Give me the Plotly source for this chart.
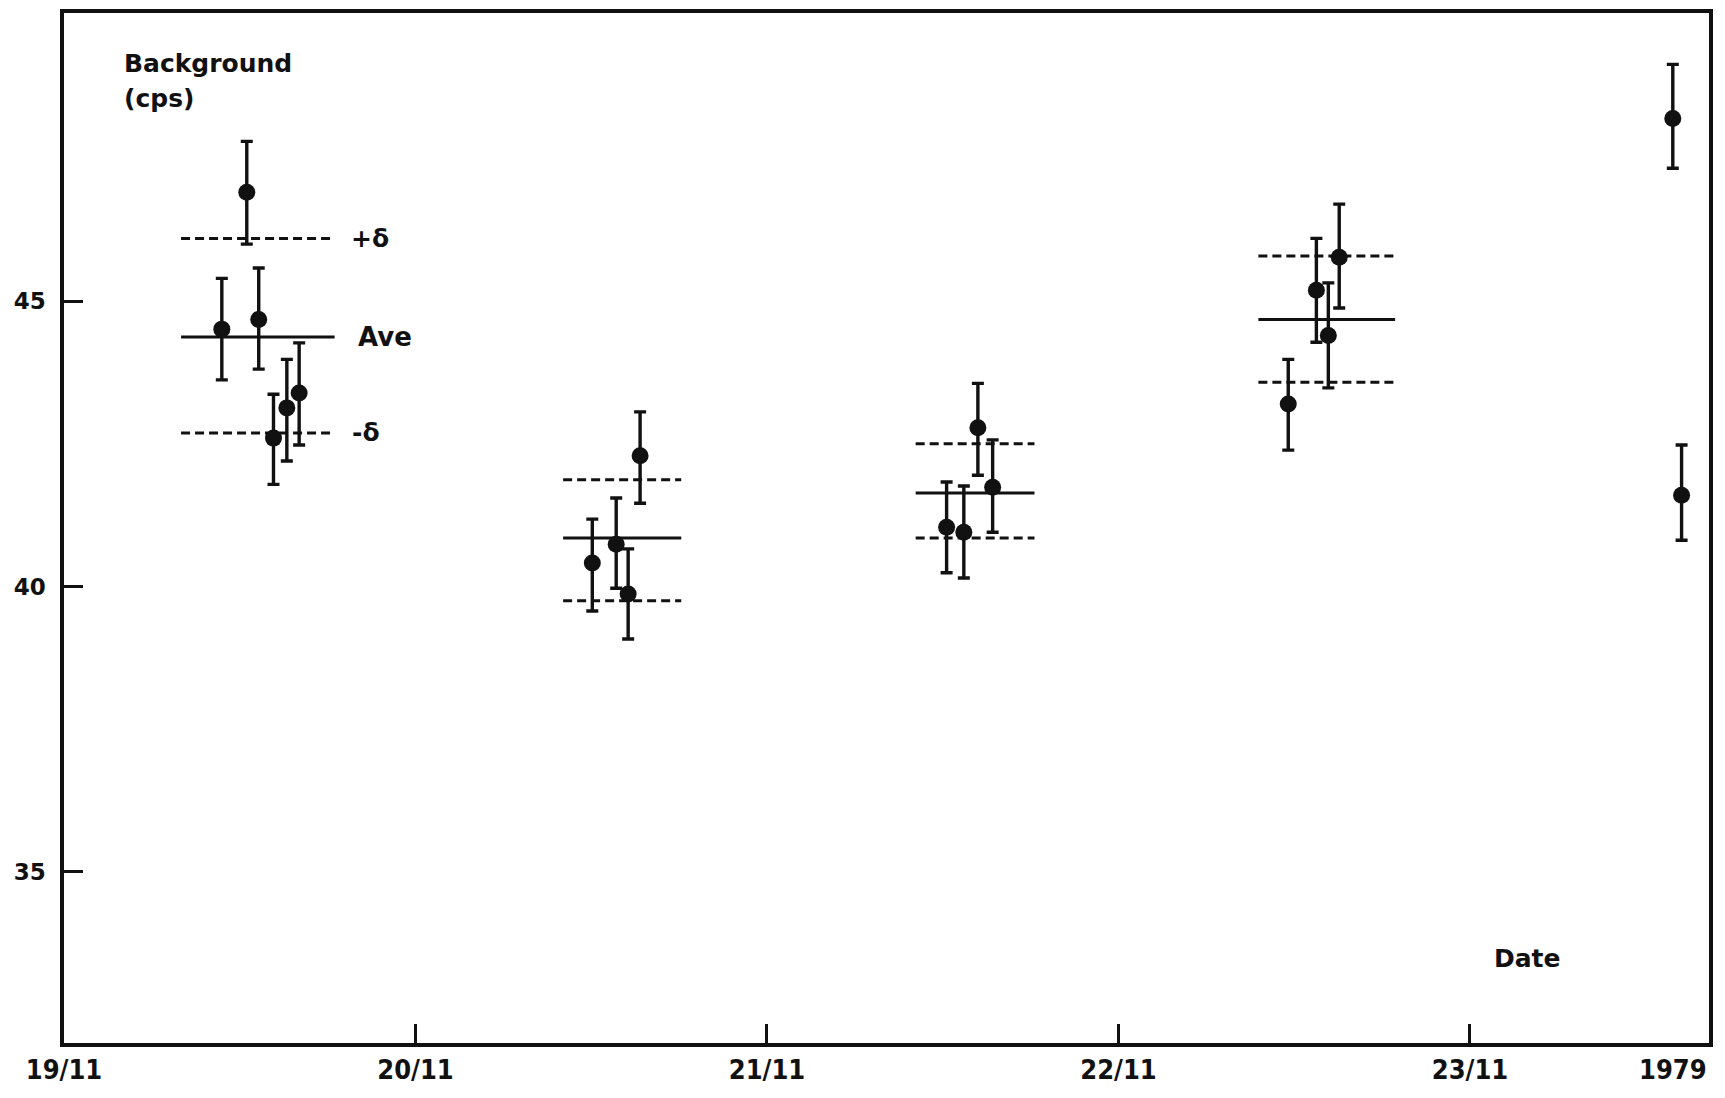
import plotly.graph_objects as go

# ---- data (x in days after 19/11 1979, y in cps) ----
pt_day = [0.449, 0.520, 0.554, 0.596, 0.634, 0.669,
          1.503, 1.571, 1.605, 1.639,
          2.511, 2.560, 2.600, 2.642,
          3.483, 3.563, 3.597, 3.628,
          4.577, 4.602]
pt_val = [44.51, 46.91, 44.68, 42.60, 43.13, 43.39,
          40.41, 40.74, 39.87, 42.29,
          41.04, 40.95, 42.78, 41.74,
          43.20, 45.19, 44.40, 45.77,
          48.20, 41.60]
err_up = [0.89, 0.89, 0.90, 0.77, 0.85, 0.88,
          0.77, 0.81, 0.79, 0.77,
          0.79, 0.81, 0.78, 0.83,
          0.78, 0.91, 0.92, 0.93,
          0.95, 0.88]
err_dn = [0.89, 0.91, 0.87, 0.81, 0.93, 0.91,
          0.84, 0.77, 0.79, 0.83,
          0.80, 0.80, 0.83, 0.79,
          0.81, 0.91, 0.92, 0.89,
          0.87, 0.79]

grp_start = [0.333, 1.420, 2.423, 3.398]
grp_end = [0.770, 1.756, 2.761, 3.787]
grp_ave = [44.37, 40.85, 41.64, 44.68]
grp_plus = [46.10, 41.87, 42.50, 45.79]
grp_minus = [42.69, 39.75, 40.85, 43.58]

tick_days = [0, 1, 2, 3, 4]
tick_text = ["19/11", "20/11", "21/11", "22/11", "23/11"]
y_ticks = [35, 40, 45]

INK = "#111111"
FONT = "DejaVu Sans"
NARROW = "DejaVu Sans Condensed, DejaVu Sans"

fig = go.Figure()

for i in range(len(grp_ave)):
    xs = [grp_start[i], grp_end[i]]
    fig.add_trace(go.Scatter(x=xs, y=[grp_ave[i]] * 2, mode="lines",
                             line=dict(color=INK, width=3), hoverinfo="skip"))
    for lvl in (grp_plus[i], grp_minus[i]):
        fig.add_trace(go.Scatter(x=xs, y=[lvl] * 2, mode="lines",
                                 line=dict(color=INK, width=3, dash="9px,5px"),
                                 hoverinfo="skip"))

fig.add_trace(go.Scatter(
    x=pt_day, y=pt_val, mode="markers",
    marker=dict(color=INK, size=17),
    error_y=dict(type="data", symmetric=False, array=err_up, arrayminus=err_dn,
                 color=INK, thickness=3.4, width=6),
))

ann_font = dict(family=FONT, size=25, color=INK, weight="bold")
fig.add_annotation(x=0.165, y=49.16, xref="x", yref="y", text="Background",
                   showarrow=False, xanchor="left", yanchor="middle", font=ann_font)
fig.add_annotation(x=0.165, y=48.55, xref="x", yref="y", text="(cps)",
                   showarrow=False, xanchor="left", yanchor="middle", font=ann_font)
fig.add_annotation(x=0.812, y=grp_plus[0], text="+δ", showarrow=False, xanchor="left",
                   yanchor="middle", font=ann_font)
fig.add_annotation(x=0.832, y=grp_ave[0], text="Ave", showarrow=False, xanchor="left",
                   yanchor="middle", font=dict(family=FONT, size=26, color=INK, weight="bold"))
fig.add_annotation(x=0.814, y=grp_minus[0], text="-δ", showarrow=False, xanchor="left",
                   yanchor="middle", font=ann_font)
fig.add_annotation(x=4.165, y=33.48, text="Date", showarrow=False, xanchor="center",
                   yanchor="middle", font=ann_font)
fig.add_annotation(x=1.0, y=0, xref="paper", yref="paper", text="1979", showarrow=False,
                   xanchor="right", yanchor="top", yshift=-9,
                   font=dict(family=NARROW, size=27, color=INK, weight="bold"))

fig.update_layout(
    width=1725, height=1098,
    margin=dict(l=64, r=16, t=9, b=55),
    paper_bgcolor="white", plot_bgcolor="white",
    showlegend=False,
)
fig.update_xaxes(range=[0, 4.68], tickvals=tick_days, ticktext=tick_text,
                 ticks="inside", ticklen=19, tickwidth=2.5, tickcolor=INK,
                 showline=True, linewidth=3.5, linecolor=INK, mirror=True,
                 showgrid=False, zeroline=False,
                 tickfont=dict(family=NARROW, size=27, color=INK, weight="bold"))
fig.update_yaxes(range=[32, 50.05], tickvals=y_ticks,
                 ticks="inside", ticklen=19, tickwidth=2.5, tickcolor=INK,
                 showline=True, linewidth=3.5, linecolor=INK, mirror=True,
                 showgrid=False, zeroline=False, ticklabelstandoff=10,
                 tickfont=dict(family=FONT, size=23, color=INK, weight="bold"))

fig.write_html("out.html", config={"displayModeBar": False},
               post_script="document.body.style.margin='0';document.body.style.overflow='hidden';")
